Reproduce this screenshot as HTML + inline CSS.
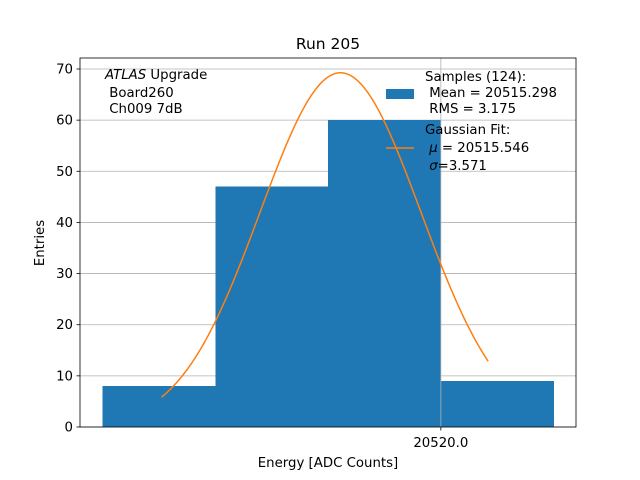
<!DOCTYPE html>
<html><head><meta charset="utf-8"><style>
body{margin:0;background:#fff;}
svg{display:block;font-family:"DejaVu Sans","Liberation Sans",sans-serif;}
</style></head><body>
<svg id="chart" width="640" height="480" viewBox="0 0 640 480">
<rect width="640" height="480" fill="#fff"/>
<text x="328" y="49" font-size="15.5" text-anchor="middle">Run 205</text>
<g id="grid"></g>
<g id="bars" shape-rendering="crispEdges"></g>
<g id="fit"></g>
<g id="axes"></g>
<text x="328" y="467" font-size="13.3" text-anchor="middle">Energy [ADC Counts]</text>
<text transform="translate(44,243) rotate(-90)" font-size="13.3" text-anchor="middle">Entries</text>
<g font-size="13.3">
<text x="105" y="79"><tspan font-style="italic">ATLAS</tspan> Upgrade</text>
<text x="105" y="97">&#160;Board260</text>
<text x="105" y="113">&#160;Ch009 7dB</text>
</g>
<g font-size="13.3">
<rect x="386" y="89" width="28" height="10" fill="#1f77b4"/>
<text x="425" y="81">Samples (124):</text>
<text x="425" y="97">&#160;Mean = 20515.298</text>
<text x="425" y="113">&#160;RMS = 3.175</text>
<line x1="386" y1="148" x2="414" y2="148" stroke="#ff7f0e" stroke-width="1.5"/>
<text x="425" y="134">Gaussian Fit:</text>
<text x="425" y="152">&#160;<tspan font-style="italic">μ</tspan> = 20515.546</text>
<text x="425" y="170">&#160;<tspan font-style="italic">σ</tspan>=3.571</text>
</g>
</svg>
<script>
const binEdges=[20505,20510,20515,20520,20525];
const counts=[8,47,60,9];
const yTicks=[0,10,20,30,40,50,60,70];
const xTicks=[20520.0];
const fitMu=20515.546, fitSigma=3.571, fitN=124, fitBinWidth=5;
const fitRange=[20507.6,20522.1];
const NS="http://www.w3.org/2000/svg";
const X0=80,X1=576,Y0=427,Y1=58;
const xmin=20503.98,xmax=20526.0,ymin=0,ymax=72.15;
function sx(v){return X0+(v-xmin)/(xmax-xmin)*(X1-X0);}
function sy(v){return Y0-(v-ymin)/(ymax-ymin)*(Y0-Y1);}
function mk(t,a,p){const e=document.createElementNS(NS,t);for(const k in a)e.setAttribute(k,a[k]);p.appendChild(e);return e;}
const grid=document.getElementById('grid'),bars=document.getElementById('bars'),fit=document.getElementById('fit'),axes=document.getElementById('axes');
yTicks.forEach(v=>{
 const l=mk('line',{x1:X0,x2:X1,y1:sy(v),y2:sy(v),stroke:'#b0b0b0','stroke-width':0.8},grid);
 
 
 const t=mk('line',{x1:X0-3.5,x2:X0,y1:sy(v),y2:sy(v),stroke:'#000','stroke-width':0.8},axes);
 
 
 const tx=mk('text',{x:X0-7,y:sy(v)+4.5,'font-size':13.3,'text-anchor':'end'},axes);
 tx.textContent=v;
 
 
});
counts.forEach((c,i)=>{
 const r=mk('rect',{x:sx(binEdges[i])-0.3,y:sy(c),width:sx(binEdges[i+1])-sx(binEdges[i])+0.6,height:sy(0)-sy(c),fill:'#1f77b4'},bars);
 
 
});
xTicks.forEach(v=>{
 const l=mk('line',{x1:sx(v),x2:sx(v),y1:Y1,y2:Y0,stroke:'#b0b0b0','stroke-width':0.8},fit);
 
 
 const t=mk('line',{x1:sx(v),x2:sx(v),y1:Y0,y2:Y0+3.5,stroke:'#000','stroke-width':0.8},axes);
 
 
 const tx=mk('text',{x:sx(v),y:Y0+20,'font-size':13.3,'text-anchor':'middle'},axes);
 tx.textContent=v.toFixed(1);
 
 
});
const amp=fitN*fitBinWidth/(Math.sqrt(2*Math.PI)*fitSigma);
let d='';
for(let i=0;i<=200;i++){const v=fitRange[0]+(fitRange[1]-fitRange[0])*i/200;const y=amp*Math.exp(-0.5*((v-fitMu)/fitSigma)**2);d+=(i?'L':'M')+sx(v).toFixed(2)+','+sy(y).toFixed(2);}
const p=mk('path',{d:d,fill:'none',stroke:'#ff7f0e','stroke-width':1.5},fit);


const f=mk('rect',{x:X0,y:Y1,width:X1-X0,height:Y0-Y1,fill:'none',stroke:'#000','stroke-width':0.8},axes);


</script>
</body></html>
